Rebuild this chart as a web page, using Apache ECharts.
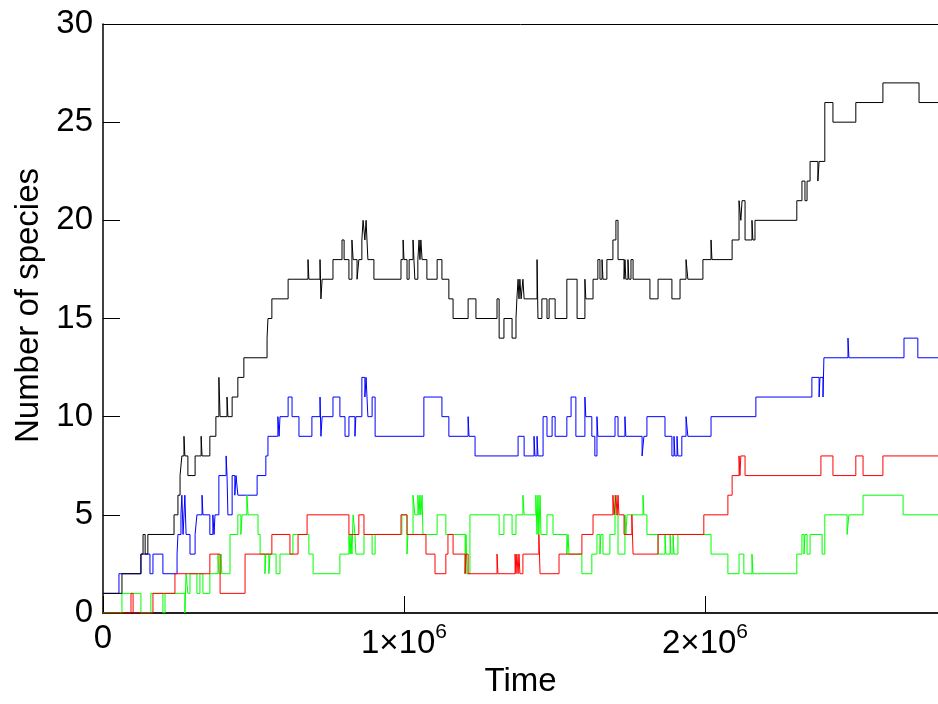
<!DOCTYPE html>
<html>
<head>
<meta charset="utf-8">
<title>Number of species</title>
<script src="https://cdn.jsdelivr.net/npm/echarts@6/dist/echarts.min.js"></script>
<style>
  html, body { margin: 0; padding: 0; background: #fff; }
  #chart { width: 938px; height: 704px; }
</style>
</head>
<body>
<div id="chart"></div>
<script>
// change points: time at which the count becomes the value, held until the next time
var blackTime = [0, 63000, 126000, 133000, 140000, 149000, 236000, 249000, 256000, 262000, 269000, 272000, 282000, 306000, 326000, 329000, 355000, 375000, 385000, 389000, 412000, 415000, 429000, 448000, 468000, 545000, 548000, 561000, 615000, 681000, 684000, 721000, 724000, 728000, 764000, 794000, 801000, 817000, 827000, 831000, 844000, 850000, 860000, 864000, 870000, 874000, 880000, 900000, 990000, 997000, 1000000, 1010000, 1017000, 1030000, 1033000, 1036000, 1046000, 1050000, 1053000, 1056000, 1060000, 1076000, 1110000, 1126000, 1149000, 1163000, 1213000, 1239000, 1309000, 1316000, 1332000, 1359000, 1372000, 1375000, 1379000, 1382000, 1385000, 1389000, 1395000, 1399000, 1442000, 1445000, 1458000, 1475000, 1482000, 1502000, 1541000, 1575000, 1601000, 1604000, 1628000, 1644000, 1651000, 1658000, 1661000, 1674000, 1694000, 1704000, 1711000, 1731000, 1734000, 1737000, 1744000, 1747000, 1754000, 1761000, 1817000, 1844000, 1890000, 1917000, 1937000, 1943000, 1993000, 2020000, 2023000, 2090000, 2113000, 2119000, 2123000, 2133000, 2156000, 2159000, 2166000, 2305000, 2322000, 2332000, 2339000, 2349000, 2375000, 2379000, 2398000, 2425000, 2501000, 2591000, 2711000, 2774000];
var blackCount = [1, 2, 3, 4, 3, 4, 5, 6, 7, 8, 9, 8, 7, 8, 9, 8, 9, 10, 12, 10, 11, 10, 11, 12, 13, 14, 15, 16, 17, 18, 17, 18, 16, 17, 18, 19, 18, 17, 19, 18, 17, 18, 19, 20, 19, 20, 18, 17, 18, 19, 18, 17, 18, 19, 18, 17, 18, 19, 18, 19, 18, 17, 18, 17, 16, 15, 16, 15, 16, 14, 15, 14, 15, 16, 17, 16, 17, 16, 17, 16, 18, 15, 16, 15, 16, 15, 17, 15, 17, 16, 17, 18, 17, 18, 17, 18, 19, 20, 18, 17, 18, 17, 18, 17, 18, 17, 16, 17, 16, 17, 18, 17, 18, 19, 18, 19, 21, 20, 21, 19, 20, 19, 20, 21, 22, 21, 22, 23, 22, 23, 26, 25, 26, 27, 26, 26];

var blueTime = [0, 53000, 126000, 156000, 166000, 199000, 246000, 249000, 259000, 262000, 266000, 272000, 276000, 289000, 306000, 312000, 329000, 332000, 355000, 365000, 369000, 372000, 385000, 409000, 412000, 415000, 429000, 438000, 442000, 448000, 512000, 541000, 548000, 581000, 585000, 588000, 615000, 628000, 651000, 694000, 721000, 724000, 728000, 764000, 787000, 804000, 817000, 837000, 840000, 860000, 870000, 874000, 880000, 894000, 904000, 1066000, 1126000, 1149000, 1213000, 1216000, 1236000, 1379000, 1399000, 1432000, 1435000, 1442000, 1445000, 1462000, 1475000, 1492000, 1502000, 1541000, 1555000, 1571000, 1601000, 1604000, 1624000, 1634000, 1641000, 1644000, 1701000, 1711000, 1734000, 1737000, 1791000, 1797000, 1807000, 1867000, 1890000, 1897000, 1900000, 1907000, 1910000, 1923000, 1937000, 1943000, 2020000, 2169000, 2355000, 2379000, 2382000, 2392000, 2395000, 2475000, 2478000, 2661000, 2707000, 2774000];
var blueCount = [1, 2, 3, 2, 3, 2, 3, 4, 5, 6, 4, 6, 4, 3, 4, 5, 6, 5, 4, 5, 4, 5, 7, 8, 7, 5, 7, 6, 7, 6, 7, 8, 9, 10, 9, 10, 11, 10, 9, 10, 11, 9, 10, 11, 10, 9, 10, 9, 10, 12, 11, 12, 10, 11, 9, 11, 10, 9, 10, 9, 8, 9, 8, 9, 8, 9, 8, 10, 9, 10, 9, 10, 11, 9, 11, 10, 9, 8, 10, 9, 10, 9, 10, 9, 8, 9, 10, 9, 8, 9, 8, 9, 8, 9, 10, 9, 10, 11, 12, 11, 12, 11, 13, 14, 13, 14, 13, 13];

var redTime = [0, 93000, 100000, 166000, 239000, 355000, 389000, 472000, 561000, 621000, 648000, 678000, 817000, 850000, 867000, 990000, 1010000, 1073000, 1103000, 1139000, 1146000, 1163000, 1203000, 1206000, 1213000, 1309000, 1312000, 1369000, 1372000, 1375000, 1379000, 1382000, 1385000, 1395000, 1448000, 1452000, 1515000, 1591000, 1628000, 1694000, 1698000, 1704000, 1708000, 1711000, 1714000, 1731000, 1757000, 1761000, 1844000, 1996000, 2076000, 2090000, 2113000, 2116000, 2119000, 2133000, 2385000, 2425000, 2501000, 2525000, 2591000, 2774000];
var redCount = [0, 1, 0, 1, 2, 3, 1, 3, 4, 3, 4, 5, 4, 5, 4, 5, 4, 3, 2, 3, 4, 3, 2, 3, 2, 3, 2, 3, 2, 3, 2, 3, 2, 3, 4, 2, 3, 4, 5, 6, 5, 6, 5, 6, 5, 4, 5, 3, 4, 5, 6, 7, 8, 7, 8, 7, 8, 7, 8, 7, 8, 8];

var greenTime = [0, 63000, 126000, 159000, 199000, 206000, 272000, 276000, 282000, 289000, 312000, 322000, 332000, 355000, 382000, 385000, 392000, 395000, 422000, 448000, 458000, 462000, 478000, 482000, 515000, 522000, 538000, 541000, 551000, 555000, 575000, 588000, 631000, 684000, 698000, 787000, 817000, 821000, 824000, 827000, 831000, 837000, 840000, 867000, 894000, 904000, 993000, 1010000, 1013000, 1030000, 1036000, 1046000, 1050000, 1053000, 1056000, 1060000, 1063000, 1110000, 1139000, 1203000, 1206000, 1209000, 1219000, 1316000, 1332000, 1359000, 1372000, 1395000, 1399000, 1438000, 1442000, 1445000, 1448000, 1452000, 1455000, 1475000, 1495000, 1541000, 1545000, 1548000, 1591000, 1624000, 1641000, 1651000, 1654000, 1661000, 1684000, 1701000, 1704000, 1711000, 1734000, 1737000, 1741000, 1794000, 1797000, 1807000, 1844000, 1867000, 1870000, 1884000, 1887000, 1894000, 1897000, 1910000, 2020000, 2076000, 2113000, 2129000, 2156000, 2159000, 2305000, 2322000, 2329000, 2332000, 2339000, 2349000, 2389000, 2398000, 2472000, 2478000, 2525000, 2658000, 2774000];
var greenCount = [0, 1, 0, 1, 0, 1, 0, 2, 1, 2, 1, 2, 1, 2, 3, 2, 3, 2, 4, 5, 4, 5, 6, 5, 4, 3, 2, 3, 2, 3, 2, 3, 4, 3, 2, 3, 4, 3, 4, 3, 5, 4, 3, 4, 3, 4, 5, 3, 4, 6, 5, 6, 5, 6, 5, 6, 4, 5, 4, 2, 4, 2, 5, 4, 5, 4, 5, 6, 5, 6, 4, 6, 4, 6, 4, 5, 4, 3, 4, 3, 2, 3, 4, 3, 4, 3, 4, 6, 5, 3, 5, 4, 5, 6, 5, 4, 3, 4, 3, 4, 3, 4, 3, 4, 3, 2, 3, 2, 3, 2, 3, 4, 3, 4, 3, 4, 3, 5, 4, 5, 6, 5, 5];

var xTicks = [0, 1000000, 2000000];
var yTicks = [0, 5, 10, 15, 20, 25, 30];

function pairs(t, v) {
    return t.map(function(x, i) { return [x, v[i]]; });
}

var font = '"Liberation Sans", Arial, Helvetica, sans-serif';

var chart = echarts.init(document.getElementById('chart'));

function stepSeries(name, color, t, v) {
    return {
        name: name,
        type: 'line',
        step: 'end',
        showSymbol: false,
        silent: true,
        lineStyle: { color: color, width: 1 },
        data: pairs(t, v)
    };
}

var option = {
    animation: false,
    backgroundColor: '#fff',
    grid: { left: 103, right: 0, top: 24, bottom: 91, containLabel: false },
    xAxis: [{
        type: 'value',
        min: 0,
        max: 2774000,
        interval: 1000000,
        name: 'Time',
        nameLocation: 'middle',
        nameGap: 52,
        nameTextStyle: { fontFamily: font, fontSize: 33, color: '#000' },
        axisLine: { show: true, lineStyle: { color: '#222', width: 2 } },
        axisTick: { show: true, inside: true, length: 17, lineStyle: { color: '#000', width: 1 } },
        splitLine: { show: false },
        axisLabel: {
            margin: 9,
            fontFamily: font,
            fontSize: 33,
            color: '#000',
            showMaxLabel: false,
            formatter: function(v) {
                if (xTicks.indexOf(v) < 0) return '';
                if (v === 0) return '0';
                return (v / 1000000) + '×10{s|6}';
            },
            rich: {
                s: { fontFamily: font, fontSize: 21, color: '#000', padding: [0, 0, 22, 0] }
            }
        }
    }, {
        type: 'value',
        position: 'top',
        min: 0,
        max: 2774000,
        axisLine: { show: true, lineStyle: { color: '#000', width: 1 } },
        axisTick: { show: false },
        axisLabel: { show: false },
        splitLine: { show: false }
    }],
    yAxis: {
        type: 'value',
        min: 0,
        max: 30,
        interval: 5,
        name: 'Number of species',
        nameLocation: 'middle',
        nameGap: 58,
        nameTextStyle: { fontFamily: font, fontSize: 33, color: '#000', padding: [0, 0, 0, 26] },
        axisLine: { show: true, lineStyle: { color: '#000', width: 1.5 } },
        axisTick: { show: true, inside: true, length: 17, lineStyle: { color: '#000', width: 1 } },
        splitLine: { show: false },
        axisLabel: {
            margin: 10,
            fontFamily: font,
            fontSize: 33,
            color: '#000',
            formatter: function(v) {
                return yTicks.indexOf(v) < 0 ? '' : String(v);
            }
        }
    },
    series: [
        stepSeries('blue', '#0000ff', blueTime, blueCount),
        stepSeries('green', '#00ff00', greenTime, greenCount),
        stepSeries('red', '#ff0000', redTime, redCount),
        stepSeries('black', '#000000', blackTime, blackCount)
    ]
};

chart.setOption(option);
</script>
</body>
</html>
